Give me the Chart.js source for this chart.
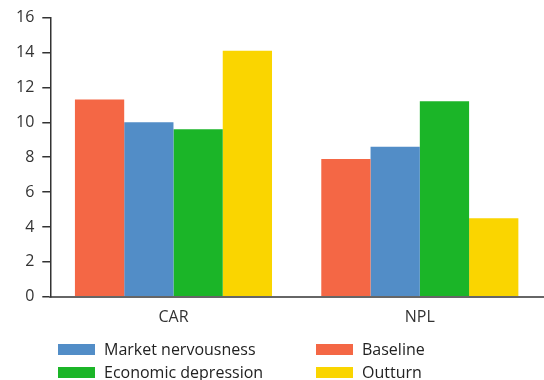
<!DOCTYPE html>
<html>
<head>
<meta charset="utf-8">
<script src="https://cdn.jsdelivr.net/npm/chart.js@4"></script>
<style>
  html, body { margin: 0; padding: 0; background: #fff; }
  #wrap { position: relative; width: 544px; height: 380px; }
  #legend { position: absolute; left: 58px; top: 338px; width: 480px;
    font-family: "Open Sans", sans-serif; font-size: 16px; color: #222; }
  .item { position: absolute; display: flex; align-items: center; white-space: nowrap; }
  .box { width: 37px; height: 11px; margin-right: 9px; }
</style>
</head>
<body>
<div id="wrap">
  <canvas id="chart" width="544" height="380"></canvas>
  <div id="legend"></div>
</div>
<script>
const categories = ['CAR', 'NPL'];
const seriesNames = ['Baseline', 'Market nervousness', 'Economic depression', 'Outturn'];
const baseline = [11.3, 7.9];
const marketNervousness = [10.0, 8.6];
const economicDepression = [9.6, 11.2];
const outturn = [14.1, 4.5];
const yTicks = [0, 2, 4, 6, 8, 10, 12, 14, 16];

const colors = ['#F46745', '#528DC7', '#1BB528', '#FAD500'];
const values = [baseline, marketNervousness, economicDepression, outturn];

const ctx = document.getElementById('chart');

const chart = new Chart(ctx, {
    type: 'bar',
    data: {
        labels: categories,
        datasets: seriesNames.map((name, i) => ({
            label: name,
            data: values[i],
            backgroundColor: colors[i],
            borderWidth: 0,
            categoryPercentage: 0.8,
            barPercentage: 1.0
        }))
    },
    options: {
        responsive: false,
        animation: false,
        layout: { padding: { left: 8, right: 1, top: 8, bottom: 42 } },
        plugins: { legend: { display: false }, tooltip: { enabled: false } },
        scales: {
            x: {
                grid: { display: false, drawTicks: false },
                border: { color: '#666', width: 2 },
                ticks: { color: '#333', font: { family: 'Open Sans', size: 16 }, padding: 11 }
            },
            y: {
                min: 0,
                max: 16,
                afterBuildTicks: axis => { axis.ticks = yTicks.map(v => ({ value: v })); },
                grid: { drawOnChartArea: false, tickLength: 8, color: '#333', lineWidth: 1.5 },
                border: { color: '#333', width: 1.5 },
                ticks: { color: '#333', font: { family: 'Open Sans', size: 16 }, padding: 8 }
            }
        }
    }
});

// legend in two columns: Market nervousness / Economic depression, Baseline / Outturn
const legendOrder = [1, 0, 2, 3];
const legend = document.getElementById('legend');
legendOrder.forEach((idx, n) => {
    const el = document.createElement('div');
    el.className = 'item';
    el.style.left = (n % 2 ? 258 : 0) + 'px';
    el.style.top = (Math.floor(n / 2) * 23) + 'px';
    el.innerHTML = '<span class="box" style="background:' + colors[idx] + '"></span>' + seriesNames[idx];
    legend.appendChild(el);
});
</script>
</body>
</html>
